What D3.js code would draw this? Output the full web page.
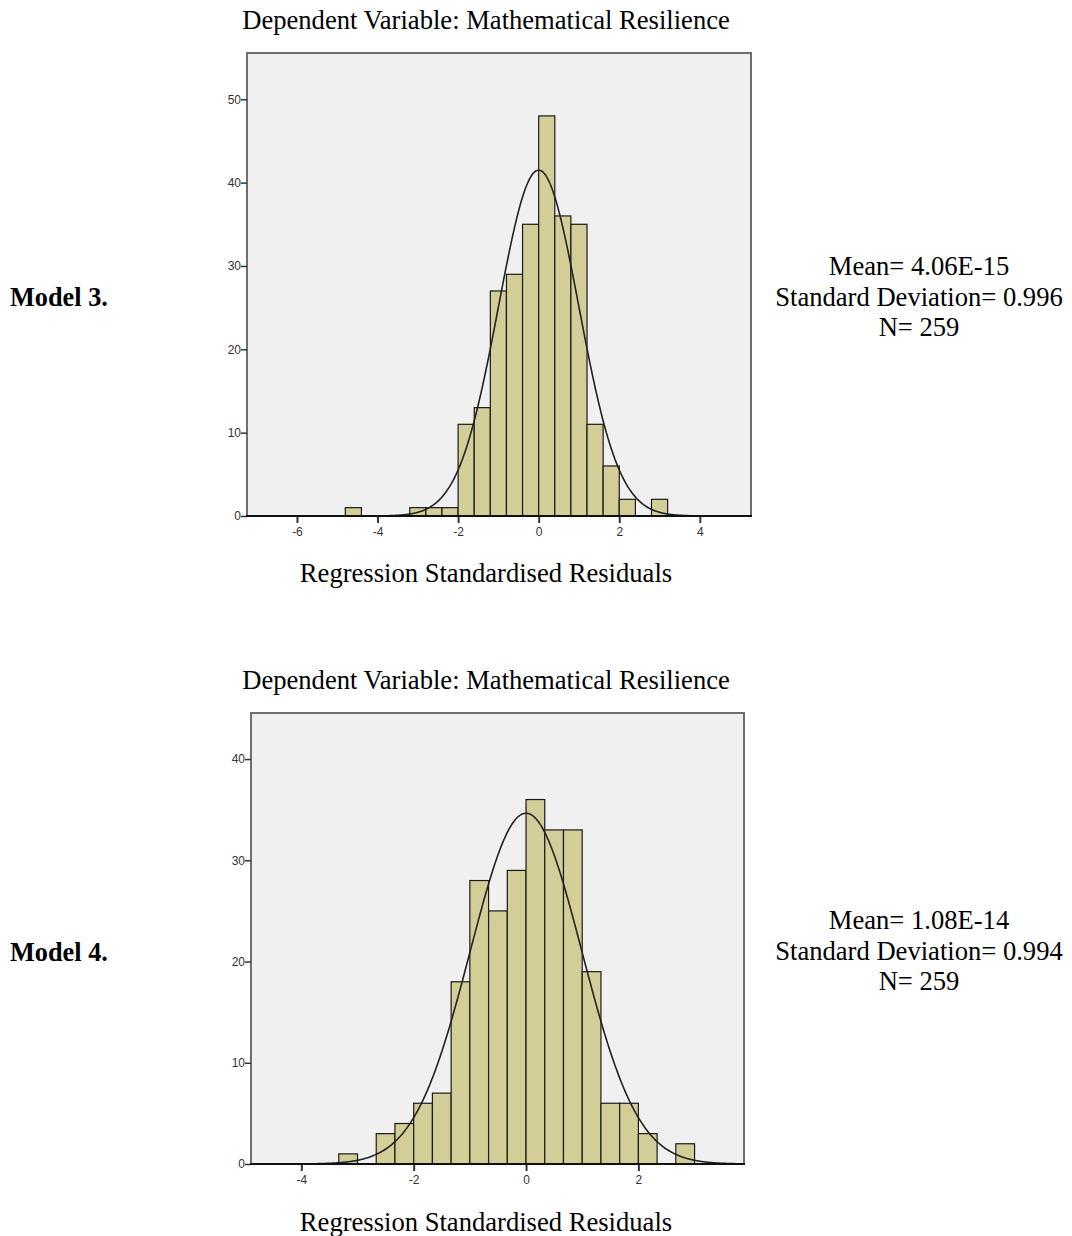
<!DOCTYPE html>
<html>
<head>
<meta charset="utf-8">
<script src="https://cdn.jsdelivr.net/npm/d3@7"></script>
<style>
  body { margin: 0; background: #fff; }
  svg text.serif { font-family: "Liberation Serif", "Times New Roman", serif; fill: #000; }
  .tick text { font-family: "Liberation Sans", Arial, sans-serif; font-size: 12px; fill: #333; }
</style>
</head>
<body>
<svg id="chart" width="1072" height="1236"></svg>
<script>
// histogram data
const model3BinStart = [-4.8, -3.2, -2.8, -2.4, -2.0, -1.6, -1.2, -0.8, -0.4, 0, 0.4, 0.8, 1.2, 1.6, 2.0, 2.8];
const model3Counts = [1, 1, 1, 1, 11, 13, 27, 29, 35, 48, 36, 35, 11, 6, 2, 2];
const model3Stats = { mean: 4.06e-15, sd: 0.996, n: 259, binWidth: 0.4 };
const model3XTicks = [-6, -4, -2, 0, 2, 4];
const model3YTicks = [0, 10, 20, 30, 40, 50];

const model4BinStart = [-10/3, -8/3, -7/3, -2, -5/3, -4/3, -1, -2/3, -1/3, 0, 1/3, 2/3, 1, 4/3, 5/3, 2, 8/3];
const model4Counts = [1, 3, 4, 6, 7, 18, 28, 25, 29, 36, 33, 33, 19, 6, 6, 3, 2];
const model4Stats = { mean: 1.08e-14, sd: 0.994, n: 259, binWidth: 1/3 };
const model4XTicks = [-4, -2, 0, 2];
const model4YTicks = [0, 10, 20, 30, 40];

const titleText = 'Dependent Variable: Mathematical Resilience';
const xLabelText = 'Regression Standardised Residuals';

const svg = d3.select('#chart');

function drawPanel(opts) {
  const { frame, xDomain, yDomain, starts, counts, stats, xTicks, yTicks, label, statLines, top } = opts;
  const x = d3.scaleLinear().domain(xDomain).range([frame.left, frame.right]);
  const y = d3.scaleLinear().domain(yDomain).range([frame.bottom, frame.top]);
  const g = svg.append('g');

  g.append('rect')
    .attr('x', frame.left).attr('y', frame.top)
    .attr('width', frame.right - frame.left).attr('height', frame.bottom - frame.top)
    .attr('fill', '#f0f0f0').attr('stroke', '#6e6e6e').attr('stroke-width', 2);

  g.selectAll('rect.bar')
    .data(starts.map((s, i) => ({ s, c: counts[i] })))
    .enter().append('rect')
    .attr('class', 'bar')
    .attr('x', d => x(d.s))
    .attr('width', d => x(d.s + stats.binWidth) - x(d.s))
    .attr('y', d => y(d.c))
    .attr('height', d => y(0) - y(d.c))
    .attr('fill', '#d3ce97')
    .attr('stroke', '#1a1a1a')
    .attr('stroke-width', 1.2);

  // fitted normal curve from the stats shown beside the panel
  const scale = stats.n * stats.binWidth / (stats.sd * Math.sqrt(2 * Math.PI));
  const pts = d3.range(xDomain[0], xDomain[1], 0.02).concat([xDomain[1]]);
  const line = d3.line()
    .x(v => x(v))
    .y(v => y(scale * Math.exp(-0.5 * Math.pow((v - stats.mean) / stats.sd, 2))))
    .curve(d3.curveBasis);
  g.append('path')
    .attr('d', line(pts))
    .attr('fill', 'none')
    .attr('stroke', '#222')
    .attr('stroke-width', 1.6);

  // axes
  const xAxis = g.append('g')
    .attr('transform', `translate(0, ${frame.bottom})`)
    .call(d3.axisBottom(x).tickValues(xTicks).tickSize(7).tickSizeOuter(0).tickFormat(d => String(d)));
  xAxis.select('.domain').remove();
  xAxis.selectAll('.tick line').attr('stroke', '#333').attr('stroke-width', 2);
  xAxis.selectAll('.tick text').attr('dy', '0.85em');

  const yAxis = g.append('g')
    .attr('transform', `translate(${frame.left}, 0)`)
    .call(d3.axisLeft(y).tickValues(yTicks).tickSize(6).tickSizeOuter(0).tickFormat(d => String(d)));
  yAxis.select('.domain').remove();
  yAxis.selectAll('.tick line').attr('stroke', '#333').attr('stroke-width', 1.5);
  yAxis.selectAll('.tick text').attr('x', -6);

  g.append('line')
    .attr('x1', frame.left - 1).attr('x2', frame.right + 1)
    .attr('y1', frame.bottom).attr('y2', frame.bottom)
    .attr('stroke', '#111').attr('stroke-width', 2);

  // texts
  g.append('text').attr('class', 'serif')
    .attr('x', 486).attr('y', top.title)
    .attr('text-anchor', 'middle').style('font-size', '26.6px')
    .text(titleText);
  g.append('text').attr('class', 'serif')
    .attr('x', 486).attr('y', top.xlabel)
    .attr('text-anchor', 'middle').style('font-size', '26.6px')
    .text(xLabelText);
  g.append('text').attr('class', 'serif')
    .attr('x', 10).attr('y', top.model)
    .style('font-size', '26.3px').style('font-weight', 'bold')
    .text(label);
  statLines.forEach((s, i) => {
    g.append('text').attr('class', 'serif')
      .attr('x', 919).attr('y', top.stats + i * 30.5)
      .attr('text-anchor', 'middle').style('font-size', '26.6px')
      .text(s);
  });
}

drawPanel({
  frame: { left: 247, right: 751, top: 53, bottom: 516 },
  xDomain: [-7.24, 5.27],
  yDomain: [0, 55.55],
  starts: model3BinStart, counts: model3Counts, stats: model3Stats,
  xTicks: model3XTicks, yTicks: model3YTicks,
  label: 'Model 3.',
  statLines: ['Mean= 4.06E-15', 'Standard Deviation= 0.996', 'N= 259'],
  top: { title: 29, xlabel: 582, model: 306, stats: 275 }
});

drawPanel({
  frame: { left: 251, right: 744, top: 713, bottom: 1164 },
  xDomain: [-4.896, 3.88],
  yDomain: [0, 44.55],
  starts: model4BinStart, counts: model4Counts, stats: model4Stats,
  xTicks: model4XTicks, yTicks: model4YTicks,
  label: 'Model 4.',
  statLines: ['Mean= 1.08E-14', 'Standard Deviation= 0.994', 'N= 259'],
  top: { title: 689, xlabel: 1231, model: 961, stats: 929 }
});
</script>
</body>
</html>
